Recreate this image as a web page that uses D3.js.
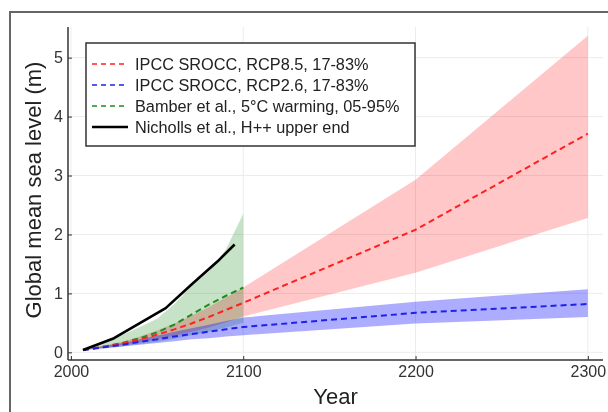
<!DOCTYPE html>
<html>
<head>
<meta charset="utf-8">
<title>Global mean sea level</title>
<script src="https://cdn.jsdelivr.net/npm/d3@7"></script>
<style>
  body { margin: 0; background: #fff; }
  svg { font-family: "Liberation Sans", Arial, Helvetica, sans-serif; }
</style>
</head>
<body>
<div id="chart"></div>
<script>
  // data
  const years = [2007, 2020, 2030, 2040, 2050, 2060, 2070, 2080, 2090, 2100, 2200, 2300]
  const rcp85Med = [0.04, 0.10, 0.15, 0.22, 0.30, 0.39, 0.49, 0.60, 0.72, 0.84, 2.08, 3.71]
  const rcp85Low = [0.04, 0.08, 0.12, 0.17, 0.22, 0.28, 0.35, 0.42, 0.51, 0.61, 1.35, 2.28]
  const rcp85High = [0.04, 0.12, 0.18, 0.27, 0.37, 0.49, 0.62, 0.77, 0.93, 1.10, 2.93, 5.37]
  const rcp26Med = [0.04, 0.09, 0.13, 0.18, 0.22, 0.27, 0.31, 0.35, 0.39, 0.43, 0.67, 0.82]
  const rcp26Low = [0.04, 0.07, 0.10, 0.13, 0.16, 0.19, 0.22, 0.24, 0.27, 0.29, 0.49, 0.60]
  const rcp26High = [0.04, 0.11, 0.16, 0.22, 0.28, 0.35, 0.41, 0.47, 0.53, 0.59, 0.86, 1.07]

  const bamberYears = [2007, 2020, 2030, 2040, 2050, 2060, 2070, 2080, 2090, 2100]
  const bamberMed = [0.04, 0.10, 0.16, 0.24, 0.34, 0.47, 0.64, 0.81, 0.96, 1.10]
  const bamberLow = [0.04, 0.07, 0.10, 0.14, 0.18, 0.23, 0.29, 0.35, 0.42, 0.50]
  const bamberHigh = [0.04, 0.17, 0.30, 0.43, 0.57, 0.82, 1.12, 1.37, 1.75, 2.35]

  const nichollsYears = [2007, 2025, 2055, 2070, 2085, 2095]
  const nichollsHigh = [0.04, 0.24, 0.75, 1.15, 1.54, 1.83]

  const xTicks = [2000, 2100, 2200, 2300]
  const yTicks = [0, 1, 2, 3, 4, 5]

  const legendLabels = [
    "IPCC SROCC, RCP8.5, 17-83%",
    "IPCC SROCC, RCP2.6, 17-83%",
    "Bamber et al., 5°C warming, 05-95%",
    "Nicholls et al., H++ upper end"
  ]

  const width = 608
  const height = 412
  const plotL = 68, plotR = 603, plotT = 27, plotB = 360

  const svg = d3.select("#chart").append("svg")
    .attr("width", width)
    .attr("height", height)

  // outer frame
  svg.append("rect")
    .attr("x", 10).attr("y", 12)
    .attr("width", 620).attr("height", 420)
    .attr("fill", "none")
    .attr("stroke", "#666")
    .attr("stroke-width", 2)

  const x = d3.scaleLinear().domain([1998.3, 2308.8]).range([plotL, plotR])
  const y = d3.scaleLinear().domain([-0.13, 5.52]).range([plotB, plotT])

  // grid
  const grid = svg.append("g")
  grid.selectAll(".gx").data(xTicks).enter().append("line")
    .attr("x1", d => x(d)).attr("x2", d => x(d))
    .attr("y1", plotT).attr("y2", plotB)
    .attr("stroke", "#ececec").attr("stroke-width", 1)
  grid.selectAll(".gy").data(yTicks).enter().append("line")
    .attr("x1", plotL).attr("x2", plotR)
    .attr("y1", d => y(d)).attr("y2", d => y(d))
    .attr("stroke", "#ececec").attr("stroke-width", 1)

  const zip = (xs, lo, hi) => xs.map((v, i) => ({ x: v, lo: lo[i], hi: hi[i] }))
  const area = d3.area().x(d => x(d.x)).y0(d => y(d.lo)).y1(d => y(d.hi))
  const line = d3.line().x(d => x(d[0])).y(d => y(d[1]))

  // bands
  svg.append("path").datum(zip(bamberYears, bamberLow, bamberHigh))
    .attr("d", area).attr("fill", "rgb(0,128,0)").attr("fill-opacity", 0.22)
  svg.append("path").datum(zip(years, rcp85Low, rcp85High))
    .attr("fill", "rgb(255,0,0)").attr("fill-opacity", 0.22)
    .style("mix-blend-mode", "multiply")
    .attr("d", area)
  svg.append("path").datum(zip(years, rcp26Low, rcp26High))
    .attr("fill", "rgb(0,0,255)").attr("fill-opacity", 0.32)
    .attr("d", area)

  // lines
  svg.append("path").datum(d3.zip(bamberYears, bamberMed))
    .attr("d", line).attr("fill", "none")
    .attr("stroke", "#1e8c1e").attr("stroke-width", 2).attr("stroke-dasharray", "6,4")
  svg.append("path").datum(d3.zip(years, rcp85Med))
    .attr("d", line).attr("fill", "none")
    .attr("stroke", "#ff2020").attr("stroke-width", 2).attr("stroke-dasharray", "6,4")
  svg.append("path").datum(d3.zip(years, rcp26Med))
    .attr("d", line).attr("fill", "none")
    .attr("stroke", "#2020ee").attr("stroke-width", 2).attr("stroke-dasharray", "6,4")
  svg.append("path").datum(d3.zip(nichollsYears, nichollsHigh))
    .attr("d", line).attr("fill", "none")
    .attr("stroke", "#000").attr("stroke-width", 2.6)
    .attr("stroke-linejoin", "round")

  // axes
  const xAxis = svg.append("g")
    .attr("transform", `translate(0,${plotB})`)
    .call(d3.axisBottom(x).tickValues(xTicks).tickFormat(d3.format("d"))
      .tickSizeInner(-4).tickSizeOuter(0).tickPadding(6))
  const yAxis = svg.append("g")
    .attr("transform", `translate(${plotL},0)`)
    .call(d3.axisLeft(y).tickValues(yTicks).tickFormat(d3.format("d"))
      .tickSizeInner(-4).tickSizeOuter(0).tickPadding(5))

  xAxis.select(".domain").remove()
  yAxis.select(".domain").remove()
  svg.append("line").attr("x1", plotL).attr("x2", plotR).attr("y1", plotB).attr("y2", plotB)
    .attr("stroke", "#333").attr("stroke-width", 1.5)
  svg.append("line").attr("x1", plotL).attr("x2", plotL).attr("y1", plotT).attr("y2", plotB)
    .attr("stroke", "#333").attr("stroke-width", 1.5)

  svg.selectAll(".tick line").attr("stroke", "#333").attr("stroke-width", 1)
  svg.selectAll(".tick text")
    .attr("font-size", 16)
    .attr("fill", "#333")
    .style("font-family", "'Liberation Sans', Arial, sans-serif")

  // axis titles
  svg.append("text")
    .attr("x", (plotL + plotR) / 2).attr("y", 404)
    .attr("text-anchor", "middle")
    .attr("font-size", 22).attr("fill", "#222")
    .text("Year")
  svg.append("text")
    .attr("transform", `translate(41,190) rotate(-90)`)
    .attr("text-anchor", "middle")
    .attr("font-size", 22).attr("fill", "#222")
    .text("Global mean sea level (m)")

  // legend
  const legendColors = ["#ff2020", "#2020ee", "#1e8c1e", "#000"]
  const legendDash = ["5,4", "5,4", "5,4", null]
  const legend = svg.append("g")
  legend.append("rect")
    .attr("x", 86).attr("y", 43).attr("width", 329).attr("height", 103)
    .attr("fill", "#fff").attr("stroke", "#333").attr("stroke-width", 1.5)
  const rows = legend.selectAll(".row").data(legendLabels).enter().append("g")
    .attr("transform", (d, i) => `translate(0,${64 + i * 21})`)
  rows.append("line")
    .attr("x1", 92).attr("x2", 128).attr("y1", 0).attr("y2", 0)
    .attr("stroke", (d, i) => legendColors[i])
    .attr("stroke-width", (d, i) => i === 3 ? 2.6 : 1.5)
    .attr("stroke-dasharray", (d, i) => legendDash[i])
  rows.append("text")
    .attr("x", 135).attr("y", 0).attr("dy", "0.35em")
    .attr("font-size", 16.3).attr("fill", "#222")
    .text(d => d)
</script>
</body>
</html>
